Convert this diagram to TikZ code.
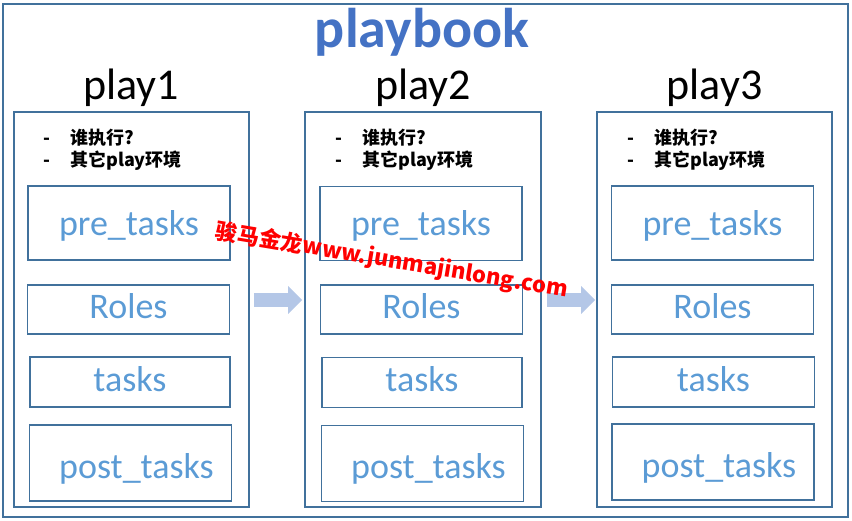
\documentclass[tikz,border=0pt]{standalone}
\usepackage{fontspec}
\setmainfont{Carlito}
\newfontfamily\cjk{Noto Sans CJK SC}
\usepackage{xcolor}
\usetikzlibrary{arrows.meta, positioning}
\definecolor{pbBlue}{HTML}{4472C4}
\definecolor{pbLine}{HTML}{41719C}
\definecolor{pbText}{HTML}{5B9BD5}
\definecolor{pbArrow}{HTML}{B4C7E7}
\definecolor{pbRed}{HTML}{FF0000}

\begin{document}
\begin{tikzpicture}[
        x=1pt, y=-1pt,
        frame/.style={draw=pbLine, line width=2pt},
        playbox/.style={rectangle, draw=pbLine, line width=1.6pt, minimum width=235pt, minimum height=395pt, inner sep=0pt},
        task/.style={rectangle, draw=pbLine, line width=1.6pt, inner sep=0pt, minimum width=202pt, text=pbText, font=\fontsize{36}{36}\selectfont, text height=24pt, text depth=6pt},
        pretask/.style={task, minimum height=74pt, text height=27pt, text depth=3pt},
        posttask/.style={task, minimum height=76pt, text height=30pt, text depth=0pt},
        playname/.style={anchor=base, inner sep=0pt, font=\fontsize{44}{44}\selectfont},
        title/.style={anchor=base, inner sep=0pt, text=pbBlue, font=\bfseries\fontsize{56}{56}\selectfont},
        note/.style={anchor=base west, inner sep=0pt, font=\cjk\bfseries\fontsize{18}{22}\selectfont},
        flow/.style={draw=pbArrow, line width=14pt, -{Triangle[length=14pt, width=27pt]}},
        watermark/.style={rotate=-9.5, inner sep=0pt, text=pbRed, font=\cjk\bfseries\fontsize{22}{22}\selectfont}
    ]
        \useasboundingbox (0,0) rectangle (852,520);
        \draw[frame] (3,4) rectangle (848,517);
        \node[title] (pb) at (422,47) {playbook};

        % --- play1 ---
        \node[playname] (l1) at (131,99) {play1};
        \node[playbox] (c1) at (131.5,309.5) {};
        \node[note] (n1a) at (43,144.5) {\makebox[27pt][l]{-}谁执行?};
        \node[note] (n1b) at (43,166.5) {\makebox[27pt][l]{-}其它play环境};
        \node[pretask] (pre1) at (129,223) {pre\_tasks};
        \node[task, minimum height=49pt] (rol1) at (128.5,309.5) {Roles};
        \node[task, minimum height=50pt, minimum width=200pt] (tsk1) at (130,382) {tasks};
        \node[posttask] (pst1) at (130.5,463) {\hspace*{12pt}post\_tasks};

        % --- play2 ---
        \node[playname] (l2) at (423,99) {play2};
        \node[playbox, minimum width=236pt] (c2) at (423,309.5) {};
        \node[note] (n2a) at (335,144.5) {\makebox[27pt][l]{-}谁执行?};
        \node[note] (n2b) at (335,166.5) {\makebox[27pt][l]{-}其它play环境};
        \node[pretask] (pre2) at (421,223.5) {pre\_tasks};
        \node[task, minimum height=49pt] (rol2) at (421.5,309.5) {Roles};
        \node[task, minimum height=50pt, minimum width=200pt] (tsk2) at (422,382.5) {tasks};
        \node[posttask] (pst2) at (422.5,463.5) {\hspace*{12pt}post\_tasks};

        % --- play3 ---
        \node[playname] (l3) at (714.5,99) {play3};
        \node[playbox] (c3) at (714.5,309.5) {};
        \node[note] (n3a) at (627,144.5) {\makebox[27pt][l]{-}谁执行?};
        \node[note] (n3b) at (627,166.5) {\makebox[27pt][l]{-}其它play环境};
        \node[pretask] (pre3) at (712.5,223) {pre\_tasks};
        \node[task, minimum height=49pt] (rol3) at (712.5,309.5) {Roles};
        \node[task, minimum height=50pt] (tsk3) at (713.5,382) {tasks};
        \node[posttask] (pst3) at (713,462) {\hspace*{12pt}post\_tasks};

        % --- flow between plays ---
        \draw[flow] ([shift={(4,-9.5)}]c1.east) -- ([shift={(-2,-9.5)}]c2.west);
        \draw[flow] ([shift={(5,-9.5)}]c2.east) -- ([shift={(-1,-9.5)}]c3.west);

        \node[watermark] (wm) at (392,261) {骏马金龙www.junmajinlong.com};
    \end{tikzpicture}
\end{document}
